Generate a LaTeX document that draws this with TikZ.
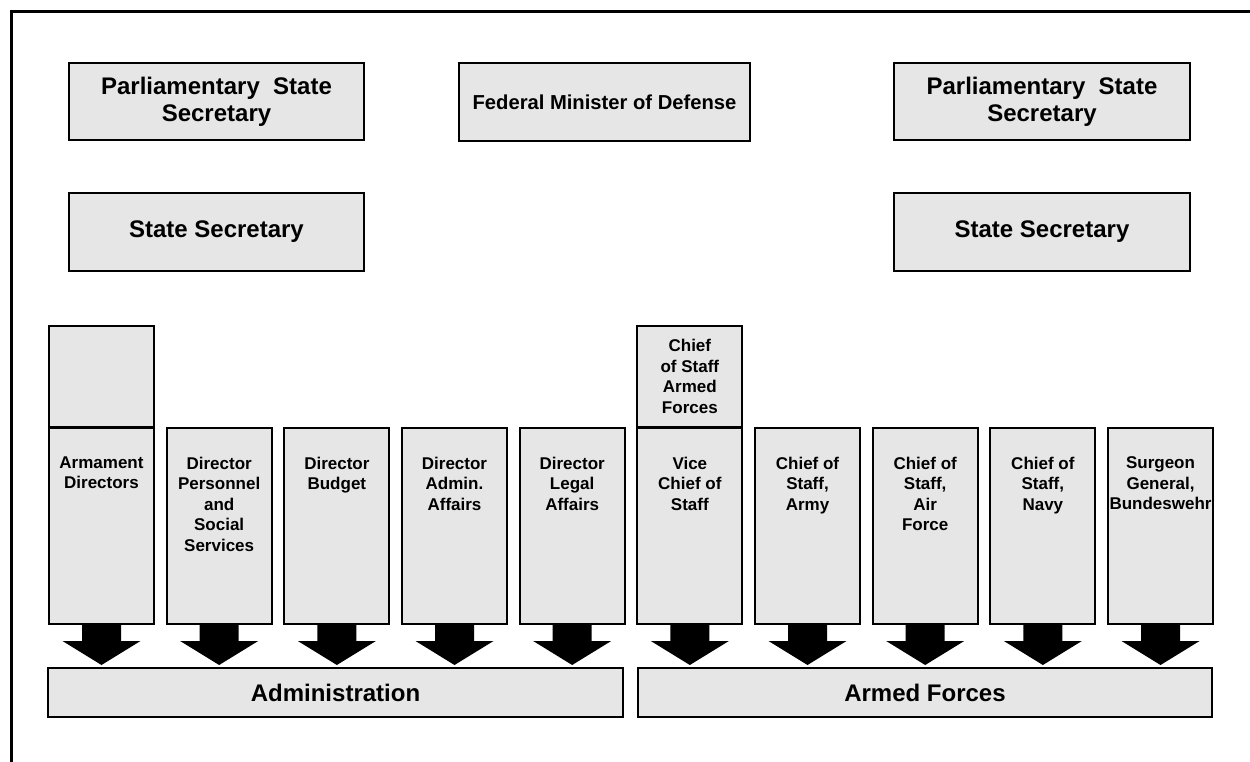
\documentclass[tikz,border=0pt]{standalone}
\usepackage{fontspec}
\setmainfont{Liberation Sans}
\usetikzlibrary{calc}
\definecolor{boxgray}{HTML}{E6E6E6}
\tikzset{
  box/.style={draw, line width=2pt, fill=boxgray, inner sep=0pt, align=center,
    font=\bfseries\fontsize{24}{27}\selectfont},
  topbox/.style={box, minimum width=295pt, minimum height=77pt},
  colbox/.style={box, minimum width=105pt, minimum height=196pt},
  upbox/.style={box, minimum width=105pt, minimum height=101pt,
    font=\bfseries\fontsize{17}{20.5}\selectfont},
  coltext/.style={inner sep=0pt, align=center, anchor=north,
    font=\bfseries\fontsize{17}{20.5}\selectfont},
  barbox/.style={box, minimum height=49pt},
  bigarrow/.style={fill=black},
  frame/.style={line width=3pt}
}
\begin{document}
\begin{tikzpicture}[x=1pt,y=-1pt]
\useasboundingbox (0,0) rectangle (1250,761);
\draw[frame] (1252,11) -- (11,11) -- (11,763);

% top row
\node[topbox] (ps1) at (216.5,101.5) {Parliamentary\ \ State\\Secretary};
\node[topbox, minimum width=291pt, minimum height=78pt,
  font=\bfseries\fontsize{20.2}{24}\selectfont] (fmd) at (604.5,102) {Federal\ Minister\ of\ Defense};
\node[topbox, minimum width=296pt] (ps2) at (1042,101.5) {Parliamentary\ \ State\\Secretary};
\node[topbox, minimum height=78pt] (ss1) at (216.5,232) {State\ Secretary};
\node[topbox, minimum width=296pt, minimum height=78pt] (ss2) at (1042,232) {State\ Secretary};

% upper boxes
\node[upbox] (u1) at (101.5,376.5) {};
\node[upbox] (u6) at ({101.5+5*117.67},376.5) {Chief\\of Staff\\Armed\\Forces};

% columns
\foreach \i/\t in {1/{Armament\\Directors},
                   2/{Director\\Personnel\\and\\Social\\Services},
                   3/{Director\\Budget},
                   4/{Director\\Admin.\\Affairs},
                   5/{Director\\Legal\\Affairs},
                   6/{Vice\\Chief of\\Staff},
                   7/{Chief of\\Staff,\\Army},
                   8/{Chief of\\Staff,\\Air\\Force},
                   9/{Chief of\\Staff,\\Navy},
                   10/{Surgeon\\General,\\Bundeswehr}} {
  \node[colbox] (c\i) at ({101.5+(\i-1)*117.67},526) {};
  \node[coltext] (t\i) at ($(c\i.north)+(0,29.5)$) {\t};
}

% bars
\node[barbox, minimum width=575pt] (adm) at (335.5,692.5) {Administration};
\node[barbox, minimum width=574pt] (arm) at (925,692.5) {Armed Forces};

% arrows
\foreach \i/\b in {1/adm,2/adm,3/adm,4/adm,5/adm,6/arm,7/arm,8/arm,9/arm,10/arm} {
  \fill[bigarrow] (c\i.south) ++(-19.5,0) -- ++(39,0) -- ++(0,16) -- ++(19.5,0)
     -- ($(c\i.south |- \b.north)+(0,-2)$) -- ($(c\i.south)+(-39,16)$)
     -- ($(c\i.south)+(-19.5,16)$) -- cycle;
}
\end{tikzpicture}
\end{document}
